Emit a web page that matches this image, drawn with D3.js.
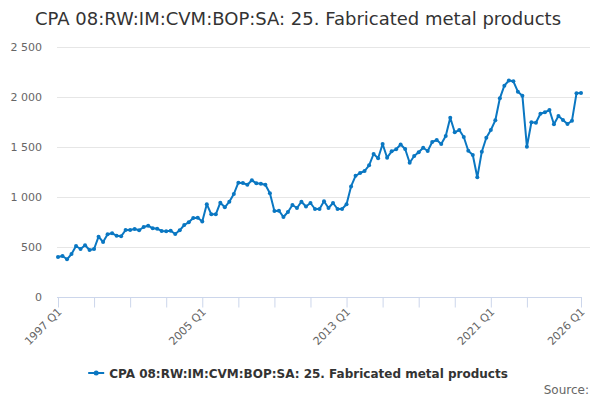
<!DOCTYPE html>
<html>
<head>
<meta charset="utf-8">
<script src="https://cdn.jsdelivr.net/npm/d3@7"></script>
<style>
  body { margin: 0; background: #fff; }
  svg { font-family: "DejaVu Sans", Verdana, sans-serif; }
</style>
</head>
<body>
<svg id="svg" width="600" height="400"></svg>
<script>
var seriesName = 'CPA 08:RW:IM:CVM:BOP:SA: 25. Fabricated metal products';

// quarterly categories, 1997 Q1 .. 2026 Q1
var quarters = [];
for (var yr = 1997; yr <= 2026; yr++) {
    for (var q = 1; q <= 4; q++) {
        if (yr === 2026 && q > 1) break;
        quarters.push(yr + ' Q' + q);
    }
}

var values = [
    400, 410, 377, 430, 510, 480, 517, 470, 480, 603,
    550, 627, 637, 613, 607, 670, 670, 680, 667, 700,
    713, 687, 683, 660, 657, 663, 630, 667, 720, 747,
    790, 793, 755, 928, 827, 827, 943, 897, 953, 1030,
    1143, 1140, 1123, 1167, 1137, 1133, 1123, 1037, 860, 863,
    800, 850, 920, 890, 953, 905, 940, 880, 880, 957,
    890, 940, 880, 880, 928, 1106, 1212, 1240, 1260, 1317,
    1430, 1387, 1530, 1393, 1457, 1477, 1525, 1480, 1343, 1410,
    1447, 1493, 1460, 1550, 1570, 1530, 1610, 1793, 1647, 1670,
    1600, 1463, 1420, 1197, 1453, 1593, 1670, 1767, 1987, 2113,
    2165, 2157, 2053, 2013, 1503, 1747, 1743, 1833, 1847, 1870,
    1727, 1810, 1770, 1730, 1763, 2037, 2040
];

var yTicks = [0, 500, 1000, 1500, 2000, 2500];
var xLabels = ['1997 Q1', '2005 Q1', '2013 Q1', '2021 Q1', '2026 Q1'];

var svg = d3.select('svg');
var color = '#0a77c2';

var x = d3.scalePoint()
    .domain(quarters)
    .range([58, 581]);

var y = d3.scaleLinear()
    .domain([0, 2500])
    .range([297, 47]);

// title
svg.append('text')
    .attr('x', 298)
    .attr('y', 25)
    .attr('text-anchor', 'middle')
    .attr('fill', '#333333')
    .style('font-size', '18px')
    .text(seriesName);

// grid lines
svg.append('g')
    .selectAll('line')
    .data(yTicks.slice(1))
    .enter()
    .append('line')
    .attr('x1', 57)
    .attr('x2', 590)
    .attr('y1', function (d) { return Math.round(y(d)) + 0.5; })
    .attr('y2', function (d) { return Math.round(y(d)) + 0.5; })
    .attr('stroke', '#e6e6e6')
    .attr('stroke-width', 1);

// y labels
svg.append('g')
    .selectAll('text')
    .data(yTicks)
    .enter()
    .append('text')
    .attr('x', 42)
    .attr('y', function (d) { return y(d) + 4; })
    .attr('text-anchor', 'end')
    .attr('fill', '#666666')
    .style('font-size', '11px')
    .text(function (d) { return d3.format(',')(d).replace(/,/g, ' '); });

// x axis
var tickCats = quarters.filter(function (d, i) {
    return (i % 8 === 0 && i < 112) || i === quarters.length - 1;
});

var xAxis = d3.axisBottom(x)
    .tickValues(tickCats)
    .tickSize(10)
    .tickFormat(function (d) { return xLabels.indexOf(d) >= 0 ? d : ''; });

var gx = svg.append('g')
    .attr('transform', 'translate(0,297.5)')
    .call(xAxis);

gx.select('.domain')
    .attr('stroke', '#ccd6eb')
    .attr('d', 'M57,0H582');
gx.selectAll('.tick line').attr('stroke', '#ccd6eb');
gx.selectAll('.tick text')
    .attr('fill', '#666666')
    .style('font-size', '11px')
    .style('font-family', '"DejaVu Sans", Verdana, sans-serif')
    .attr('text-anchor', 'end')
    .attr('dy', null)
    .attr('y', null)
    .attr('transform', 'translate(4,15) rotate(-45)');

// line
var line = d3.line()
    .x(function (d, i) { return x(quarters[i]); })
    .y(function (d) { return y(d); });

svg.append('path')
    .datum(values)
    .attr('d', line)
    .attr('fill', 'none')
    .attr('stroke', color)
    .attr('stroke-width', 2)
    .attr('stroke-linejoin', 'round');

svg.append('g')
    .selectAll('circle')
    .data(values)
    .enter()
    .append('circle')
    .attr('cx', function (d, i) { return x(quarters[i]); })
    .attr('cy', function (d) { return y(d); })
    .attr('r', 2)
    .attr('fill', color);

// legend, centred under the plot
var legend = svg.append('g').attr('transform', 'translate(0,373)');
var legendText = legend.append('text')
    .attr('x', 21)
    .attr('y', 4.5)
    .attr('fill', '#333333')
    .style('font-size', '12px')
    .style('font-weight', 'bold')
    .text(seriesName);
legend.append('line')
    .attr('x1', 0).attr('x2', 16)
    .attr('y1', 0).attr('y2', 0)
    .attr('stroke', color)
    .attr('stroke-width', 2);
legend.append('circle')
    .attr('cx', 8).attr('cy', 0).attr('r', 2.5)
    .attr('fill', color);
var legendW = 21 + legendText.node().getComputedTextLength();
legend.attr('transform', 'translate(' + (298 - legendW / 2) + ',373)');

// credits
svg.append('text')
    .attr('x', 589)
    .attr('y', 394)
    .attr('text-anchor', 'end')
    .attr('fill', '#666666')
    .style('font-size', '12px')
    .text('Source:');
</script>
</body>
</html>
